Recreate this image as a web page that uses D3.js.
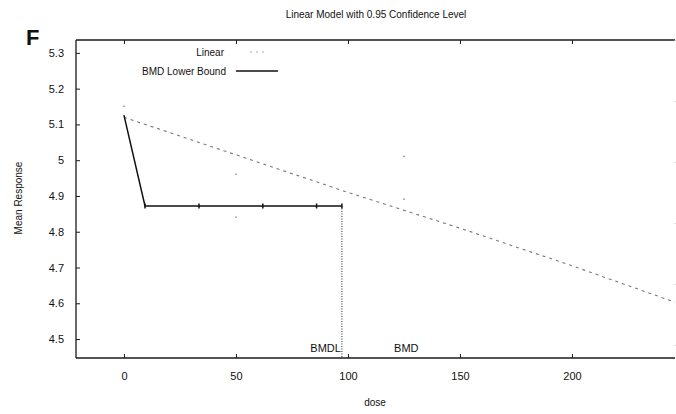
<!DOCTYPE html>
<html>
<head>
<meta charset="utf-8">
<script src="https://cdn.jsdelivr.net/npm/d3@7"></script>
<style>
  html, body { margin: 0; padding: 0; background: #fff; }
  svg { display: block; }
  text { font-family: "Liberation Sans", Arial, sans-serif; fill: #111; }
</style>
</head>
<body>
<svg id="chart" width="676" height="414"></svg>
<script>
// Fitted linear model: dose vs mean response
const fitDose = [0, 50, 100, 150, 200, 246];
const fitMean = [5.12, 5.015, 4.91, 4.81, 4.705, 4.603];

// Lower-bound curve with its marked points
const lowerDose = [0, 9.4, 33.5, 62, 86, 97.3];
const lowerMean = [5.126, 4.872, 4.872, 4.872, 4.872, 4.872];
const lowerMarkDose = [9.4, 33.5, 62, 86, 97.3];

// Benchmark doses
const bmdl = 97.3;
const bmd = 131.5;
const bmrLevel = 4.872;

// Error bar end points of the observed means
const barDose = [0, 50, 50, 125, 125];
const barValue = [5.15, 4.96, 4.84, 5.01, 4.89];

// Axis ticks
const xTicks = [0, 50, 100, 150, 200];
const yTicks = [4.5, 4.6, 4.7, 4.8, 4.9, 5.0, 5.1, 5.2, 5.3];
const yTickLabels = ["4.5", "4.6", "4.7", "4.8", "4.9", "5", "5.1", "5.2", "5.3"];

(function () {
  const svg = d3.select("#chart");
  const pL = 76, pR = 675, pT = 40, pB = 358;

  const x = d3.scaleLinear().domain([-21.4, 246]).range([pL, pR]);
  const y = d3.scaleLinear().domain([4.447, 5.336]).range([pB, pT]);

  // Title and panel letter
  svg.append("text").attr("x", 376).attr("y", 18).attr("text-anchor", "middle")
    .attr("font-size", 10).text("Linear Model with 0.95 Confidence Level");
  svg.append("text").attr("x", 26).attr("y", 45).attr("font-size", 22)
    .attr("font-family", "DejaVu Sans, sans-serif")
    .attr("font-weight", "bold").text("F");

  // Plot frame
  const frame = svg.append("g").attr("stroke", "#1a1a1a").attr("fill", "none");
  frame.append("line").attr("x1", pL).attr("x2", pR).attr("y1", pT).attr("y2", pT).attr("stroke-width", 1.3);
  frame.append("line").attr("x1", pL).attr("x2", pR).attr("y1", pB).attr("y2", pB).attr("stroke-width", 1.3);
  frame.append("line").attr("x1", pL).attr("x2", pL).attr("y1", pT).attr("y2", pB).attr("stroke-width", 1.3);
  frame.append("line").attr("x1", pR).attr("x2", pR).attr("y1", pT).attr("y2", pB)
    .attr("stroke", "#bbb").attr("stroke-width", 1).attr("stroke-dasharray", "1,60");

  // Axes with inward ticks
  const xAxisB = d3.axisBottom(x).tickValues(xTicks).tickSizeInner(-4).tickSizeOuter(0).tickPadding(14);
  const gxb = svg.append("g").attr("transform", `translate(0,${pB})`).call(xAxisB);
  const xAxisT = d3.axisTop(x).tickValues(xTicks).tickSizeInner(-4).tickSizeOuter(0).tickFormat("");
  const gxt = svg.append("g").attr("transform", `translate(0,${pT})`).call(xAxisT);
  const yAxisL = d3.axisLeft(y).tickValues(yTicks).tickSizeInner(-4).tickSizeOuter(0).tickPadding(12)
    .tickFormat((d, i) => yTickLabels[i]);
  const gyl = svg.append("g").attr("transform", `translate(${pL},0)`).call(yAxisL);
  [gxb, gxt, gyl].forEach(g => {
    g.select(".domain").remove();
    g.selectAll(".tick line").attr("stroke", "#1a1a1a");
    g.selectAll(".tick text").attr("font-size", 11)
      .attr("font-family", "Liberation Sans, Arial, sans-serif").attr("fill", "#111");
  });

  // Axis titles
  svg.append("text").attr("x", 375).attr("y", 406).attr("text-anchor", "middle")
    .attr("font-size", 10).text("dose");
  svg.append("text").attr("transform", "translate(22,198) rotate(-90)").attr("text-anchor", "middle")
    .attr("font-size", 10).text("Mean Response");

  // Error bar end points (faint)
  svg.append("g").selectAll("rect").data(barDose).join("rect")
    .attr("x", d => x(d) - 1).attr("y", (d, i) => y(barValue[i]) - 1)
    .attr("width", 2).attr("height", 1.5).attr("fill", "#aaa");

  // Fitted linear model line
  const line = d3.line().x(d => x(d[0])).y(d => y(d[1]));
  svg.append("path").datum(fitDose.map((d, i) => [d, fitMean[i]]))
    .attr("d", line).attr("fill", "none").attr("stroke", "#777")
    .attr("stroke-width", 1.1).attr("stroke-dasharray", "3,4");

  // Lower-bound curve
  svg.append("path").datum(lowerDose.map((d, i) => [d, lowerMean[i]]))
    .attr("d", line).attr("fill", "none").attr("stroke", "#111")
    .attr("stroke-width", 1.5);
  svg.append("g").selectAll("line").data(lowerMarkDose).join("line")
    .attr("x1", d => x(d)).attr("x2", d => x(d))
    .attr("y1", y(bmrLevel) - 2.5).attr("y2", y(bmrLevel) + 2.5)
    .attr("stroke", "#111").attr("stroke-width", 1.5);

  // BMDL drop line
  svg.append("line").attr("x1", x(bmdl)).attr("x2", x(bmdl))
    .attr("y1", y(bmrLevel)).attr("y2", pB)
    .attr("stroke", "#222").attr("stroke-width", 1).attr("stroke-dasharray", "1,1.5");

  // BMD / BMDL labels
  svg.append("text").attr("x", x(bmdl) - 1).attr("y", 352).attr("text-anchor", "end")
    .attr("font-size", 11).text("BMDL");
  svg.append("text").attr("x", x(bmd)).attr("y", 352).attr("text-anchor", "end")
    .attr("font-size", 11).text("BMD");

  // Legend
  const legend = svg.append("g");
  legend.append("text").attr("x", 224).attr("y", 56).attr("text-anchor", "end")
    .attr("font-size", 10).attr("fill", "#888").text("Linear");
  legend.append("line").attr("x1", 250).attr("x2", 266).attr("y1", 52).attr("y2", 52)
    .attr("stroke", "#aaa").attr("stroke-width", 1).attr("stroke-dasharray", "2,4");
  legend.append("text").attr("x", 226).attr("y", 75).attr("text-anchor", "end")
    .attr("font-size", 10).text("BMD Lower Bound");
  legend.append("line").attr("x1", 236).attr("x2", 278).attr("y1", 71).attr("y2", 71)
    .attr("stroke", "#111").attr("stroke-width", 1.3);
})();
</script>
</body>
</html>
